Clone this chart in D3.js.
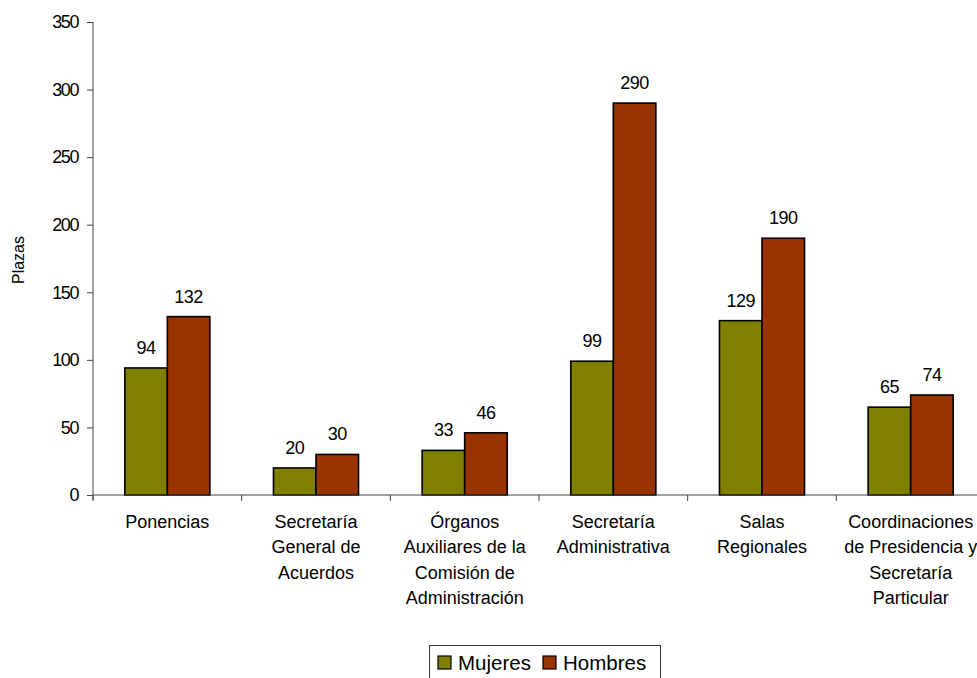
<!DOCTYPE html>
<html><head><meta charset="utf-8">
<script src="https://cdn.jsdelivr.net/npm/d3@7"></script>
<style>body{margin:0;background:#fff}svg{display:block}text{font-family:"Liberation Sans",Arial,sans-serif;fill:#000}</style>
</head><body>
<svg id="c" width="977" height="678"></svg>
<script>
const categories = [
  ["Ponencias"],
  ["Secretaría","General de","Acuerdos"],
  ["Órganos","Auxiliares de la","Comisión de","Administración"],
  ["Secretaría","Administrativa"],
  ["Salas","Regionales"],
  ["Coordinaciones","de Presidencia y","Secretaría","Particular"]
];
const seriesNames = ["Mujeres","Hombres"];
const mujeres = [94,20,33,99,129,65];
const hombres = [132,30,46,290,190,74];
const yTicks = [0,50,100,150,200,250,300,350];
const colors = ["#808000","#993300"];

const svg = d3.select("#c");
const idx = d3.range(categories.length);
const x0 = d3.scaleBand().domain(idx).range([93,985]).padding(0);
const groupW = x0.bandwidth()*0.572;
const x1 = d3.scaleBand().domain([0,1]).range([0,groupW]);
const y = d3.scaleLinear().domain([0,350]).range([495,22]);
const vals = [mujeres,hombres];

// bars
const g = svg.append("g");
idx.forEach(i=>{
  const gx = x0(i) + (x0.bandwidth()-groupW)/2;
  [0,1].forEach(s=>{
    const v = vals[s][i];
    g.append("rect").attr("x",gx+x1(s)).attr("y",y(v)).attr("width",x1.bandwidth()).attr("height",y(0)-y(v))
      .attr("fill",colors[s]).attr("stroke","#000").attr("stroke-width",1.6);
    g.append("text").attr("x",gx+x1(s)+x1.bandwidth()/2).attr("y",y(v)-14).attr("text-anchor","middle")
      .attr("font-size",18).attr("letter-spacing",-0.5).text(v);
  });
});

// y axis
const ya = svg.append("g").attr("transform","translate(93,0)")
  .call(d3.axisLeft(y).tickValues(yTicks).tickSize(6).tickPadding(9));
ya.select(".domain").attr("stroke","#444").attr("d","M0,22V500");
ya.selectAll(".tick line").attr("stroke","#444");
ya.selectAll("text").attr("font-size",18).attr("letter-spacing",-1.4).attr("font-family","Liberation Sans, Arial, sans-serif").attr("fill","#000");

// x axis
svg.append("line").attr("x1",93).attr("x2",985).attr("y1",y(0)).attr("y2",y(0)).attr("stroke","#444");
d3.range(categories.length+1).forEach(i=>{
  const xx = 93 + i*x0.step();
  svg.append("line").attr("x1",xx).attr("x2",xx).attr("y1",495).attr("y2",501).attr("stroke","#444");
});
idx.forEach(i=>{
  const t = svg.append("text").attr("text-anchor","middle").attr("font-size",18);
  categories[i].forEach((line,k)=>{
    t.append("tspan").attr("x",x0(i)+x0.bandwidth()/2).attr("y",528+k*25.3).text(line);
  });
});

// y title
svg.append("text").attr("transform","translate(24,260) rotate(-90)").attr("text-anchor","middle").attr("font-size",16).text("Plazas");

// legend
const lg = svg.append("g");
lg.append("rect").attr("x",429.5).attr("y",645.5).attr("width",231).attr("height",40).attr("fill","#fff").attr("stroke","#333");
const lx = [438,543], tx=[458,563];
seriesNames.forEach((n,s)=>{
  lg.append("rect").attr("x",lx[s]).attr("y",656).attr("width",13).attr("height",13).attr("fill",colors[s]).attr("stroke","#000").attr("stroke-width",1.2);
  lg.append("text").attr("x",tx[s]).attr("y",670).attr("font-size",20.5).text(n);
});
</script>
</body></html>
